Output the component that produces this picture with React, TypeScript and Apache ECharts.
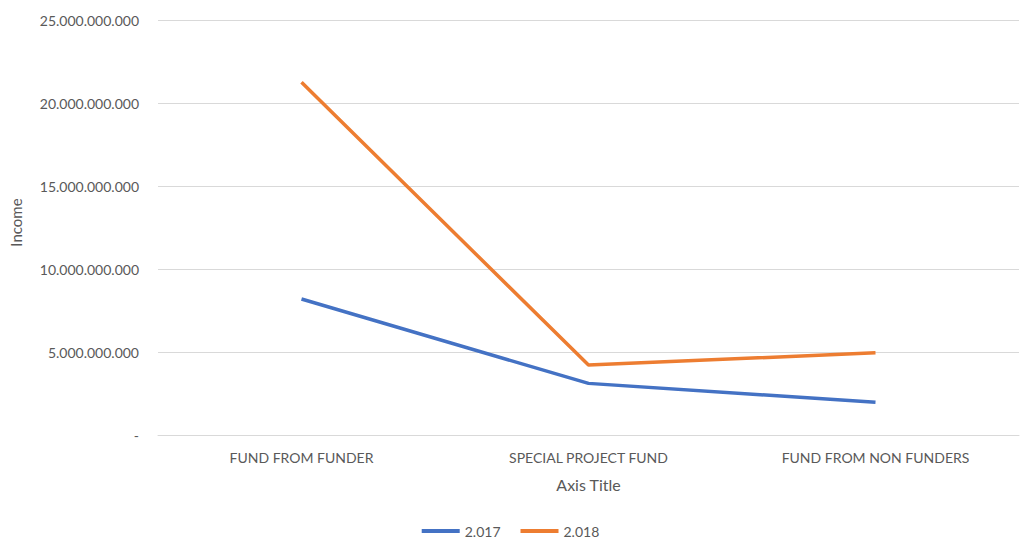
import React, { useEffect, useRef } from "react";
import * as echarts from "echarts";

const categories = ["FUND FROM FUNDER", "SPECIAL PROJECT FUND", "FUND FROM NON FUNDERS"];
const series2017 = [8190000000, 3110000000, 1970000000];
const series2018 = [21250000000, 4210000000, 4950000000];
const seriesNames = ["2.017", "2.018"];

const FONT = "Lato, 'Open Sans', sans-serif";

function fmt(v: number): string {
  if (v === 0) return "-";
  return Math.round(v)
    .toString()
    .replace(/\B(?=(\d{3})+(?!\d))/g, ".");
}

export default function App() {
  const ref = useRef<HTMLDivElement>(null);
  useEffect(() => {
    if (!ref.current) return;
    const chart = echarts.init(ref.current, undefined, { renderer: "svg" });
    chart.setOption({
      animation: false,
      backgroundColor: "#ffffff",
      grid: { left: 156, right: 2, top: 20, bottom: 107, containLabel: false },
      legend: {
        top: 519,
        left: "center",
        itemWidth: 38,
        itemHeight: 4,
        itemGap: 20,
        icon: "rect",
        textStyle: { color: "#595959", fontSize: 14, fontFamily: FONT },
        data: seriesNames,
      },
      xAxis: {
        type: "category",
        data: categories,
        boundaryGap: true,
        name: "Axis Title",
        nameLocation: "middle",
        nameGap: 41,
        nameTextStyle: { color: "#595959", fontSize: 16, fontFamily: FONT },
        axisLine: { show: true, lineStyle: { color: "#d9d9d9", width: 1 } },
        axisTick: { show: false },
        axisLabel: { color: "#595959", fontSize: 14, fontFamily: FONT, margin: 15 },
      },
      yAxis: {
        type: "value",
        min: 0,
        max: 25000000000,
        interval: 5000000000,
        name: "Income",
        nameLocation: "middle",
        nameGap: 135,
        nameRotate: 90,
        nameTextStyle: { color: "#595959", fontSize: 15, fontFamily: FONT, padding: [0, 0, 0, 10] },
        axisLine: { show: false },
        axisTick: { show: false },
        splitLine: { lineStyle: { color: "#d9d9d9", width: 1 } },
        axisLabel: {
          color: "#595959",
          fontSize: 14,
          fontFamily: FONT,
          margin: 19,
          formatter: (v: number) => fmt(v),
        },
      },
      series: [
        {
          name: seriesNames[0],
          type: "line",
          data: series2017,
          showSymbol: false,
          symbol: "none",
          lineStyle: { color: "#4472C4", width: 3.5 },
          itemStyle: { color: "#4472C4" },
        },
        {
          name: seriesNames[1],
          type: "line",
          data: series2018,
          showSymbol: false,
          symbol: "none",
          lineStyle: { color: "#ED7D31", width: 3.5 },
          itemStyle: { color: "#ED7D31" },
        },
      ],
    });
    return () => chart.dispose();
  }, []);
  return <div ref={ref} style={{ width: 1021, height: 542, position: "absolute", left: 0, top: 0 }} />;
}
